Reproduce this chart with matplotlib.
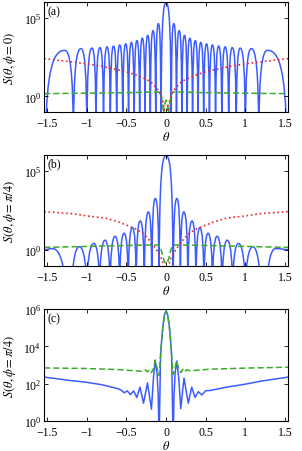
import matplotlib
matplotlib.use('Agg')
import matplotlib.pyplot as plt
from matplotlib.path import Path
from matplotlib.patches import PathPatch
from matplotlib.ticker import NullLocator

plt.rcParams['font.family'] = 'serif'
plt.rcParams['font.serif'] = ['Liberation Serif', 'DejaVu Serif']
plt.rcParams['mathtext.fontset'] = 'stix'

# x axis
x_ticks = [-1.5, -1, -0.5, 0, 0.5, 1, 1.5]
x_ticklabels = ['\u22121.5', '\u22121', '\u22120.5', '0', '0.5', '1', '1.5']

# panel (a), blue lobes: left null, peak position, log10 peak, right null
a_lobe_lo = [-1.52, -1.17, -1.0, -0.885, -0.79, -0.704, -0.624, -0.547, -0.474, -0.403,
             -0.334, -0.266, -0.199, -0.131, -0.065, 0.065, 0.131, 0.199, 0.266, 0.334,
             0.403, 0.474, 0.547, 0.624, 0.704, 0.79, 0.885, 1.0, 1.17]
a_lobe_pk = [-1.28, -1.075, -0.935, -0.835, -0.745, -0.663, -0.585, -0.51, -0.438, -0.368,
             -0.30, -0.232, -0.165, -0.097, 0.0, 0.097, 0.165, 0.232, 0.30, 0.368,
             0.438, 0.51, 0.585, 0.663, 0.745, 0.835, 0.935, 1.075, 1.28]
a_lobe_lg = [2.93, 3.04, 3.07, 3.10, 3.15, 3.20, 3.27, 3.34, 3.43, 3.55,
             3.70, 3.88, 4.18, 4.63, 5.95, 4.63, 4.18, 3.88, 3.70, 3.55,
             3.43, 3.34, 3.27, 3.20, 3.15, 3.10, 3.07, 3.04, 2.93]
a_lobe_hi = [-1.17, -1.0, -0.885, -0.79, -0.704, -0.624, -0.547, -0.474, -0.403, -0.334,
             -0.266, -0.199, -0.131, -0.065, 0.065, 0.131, 0.199, 0.266, 0.334, 0.403,
             0.474, 0.547, 0.624, 0.704, 0.79, 0.885, 1.0, 1.17, 1.52]

a_red_th = [-1.54, -1.2, -1.0, -0.8, -0.6, -0.5, -0.4, -0.3, -0.2, -0.15, -0.1, -0.07, -0.05,
            -0.03, -0.015, 0.0, 0.015, 0.03, 0.05, 0.07, 0.1, 0.15, 0.2, 0.3, 0.4, 0.5, 0.6,
            0.8, 1.0, 1.2, 1.54]
a_red_lg = [2.4, 2.2, 2.07, 1.9, 1.68, 1.55, 1.4, 1.2, 0.95, 0.7, 0.4, 0.1, -0.2,
            -0.6, -1.2, -2.0, -1.2, -0.6, -0.2, 0.1, 0.4, 0.7, 0.95, 1.2, 1.4, 1.55, 1.68,
            1.9, 2.07, 2.2, 2.4]
a_green_th = [-1.54, -1.0, -0.5, -0.1, -0.075, -0.06, -0.045, -0.032, -0.02, -0.01, 0.0,
              0.01, 0.02, 0.032, 0.045, 0.06, 0.075, 0.1, 0.5, 1.0, 1.54]
a_green_lg = [0.17, 0.2, 0.23, 0.28, 0.25, 0.0, -0.5, -1.1, -0.7, -0.35, -0.25,
              -0.35, -0.7, -1.1, -0.5, 0.0, 0.25, 0.28, 0.23, 0.2, 0.17]

# panel (b), blue lobes (edge lobes end at the frame with a finite value)
b_lobe_lo = [-1.54, -1.19, -1.0, -0.84, -0.707, -0.586, -0.478, -0.377, -0.275, -0.18,
             -0.09, 0.09, 0.18, 0.275, 0.377, 0.478, 0.586, 0.707, 0.84, 1.0, 1.27]
b_lobe_pk = [-1.43, -1.095, -0.912, -0.771, -0.643, -0.529, -0.426, -0.327, -0.223, -0.136,
             0.0, 0.136, 0.223, 0.327, 0.426, 0.529, 0.643, 0.771, 0.912, 1.095, 1.38]
b_lobe_lg = [0.1, 0.22, 0.43, 0.63, 0.88, 1.07, 1.42, 1.84, 2.41, 3.25,
             5.95, 3.25, 2.41, 1.84, 1.42, 1.07, 0.88, 0.63, 0.43, 0.22, 0.1]
b_lobe_hi = [-1.27, -1.0, -0.84, -0.707, -0.586, -0.478, -0.377, -0.275, -0.18, -0.09,
             0.09, 0.18, 0.275, 0.377, 0.478, 0.586, 0.707, 0.84, 1.0, 1.19, 1.54]
b_edge_lg = 0.04

b_red_th = [-1.54, -1.18, -1.0, -0.76, -0.6, -0.39, -0.3, -0.22, -0.14, -0.1, -0.054, -0.02,
            0.0, 0.02, 0.054, 0.1, 0.14, 0.22, 0.3, 0.39, 0.6, 0.76, 1.0, 1.18, 1.54]
b_red_lg = [2.43, 2.3, 2.16, 2.02, 1.78, 1.36, 1.1, 0.69, 0.16, -0.15, -0.57, -1.2,
            -2.0, -1.2, -0.57, -0.15, 0.16, 0.69, 1.1, 1.36, 1.78, 2.02, 2.16, 2.3, 2.43]
b_green_th = [-1.54, -1.0, -0.5, -0.2, -0.1, -0.075, -0.06, -0.04, -0.02, 0.0,
              0.02, 0.04, 0.06, 0.075, 0.1, 0.2, 0.5, 1.0, 1.54]
b_green_lg = [0.18, 0.24, 0.3, 0.33, 0.33, 0.25, 0.0, -0.4, -0.72, -0.85,
              -0.72, -0.4, 0.0, 0.25, 0.33, 0.33, 0.3, 0.24, 0.18]

# panel (c)
c_blue_th = [-1.54, -1.2, -1.02, -0.81, -0.6, -0.56, -0.53, -0.49, -0.45, -0.41, -0.37,
             -0.33, -0.285, -0.235, -0.185, -0.16, -0.138, -0.115, -0.1, -0.088,
             -0.07, -0.055, -0.04, -0.02, 0.0, 0.02, 0.04, 0.055, 0.07,
             0.088, 0.1, 0.115, 0.134, 0.16, 0.185, 0.226, 0.28, 0.323, 0.365, 0.407,
             0.45, 0.5, 0.554, 0.76, 1.0, 1.18, 1.54]
c_blue_lg = [2.36, 2.17, 2.09, 1.95, 1.73, 1.64, 1.52, 1.62, 1.42, 1.62, 1.27,
             1.82, 0.96, 2.05, 0.64, 2.3, 3.27, 2.6, 1.4, -1.0,
             3.5, 4.4, 5.1, 5.7, 5.9, 5.7, 5.1, 4.4, 3.5,
             -1.0, 1.4, 2.6, 3.22, 2.3, 0.67, 2.31, 0.96, 1.82, 1.27, 1.58,
             1.40, 1.63, 1.64, 1.82, 1.98, 2.13, 2.36]
c_green_th = [-1.54, -1.02, -0.6, -0.31, -0.26, -0.235, -0.21, -0.185, -0.16, -0.138,
              -0.11, -0.088, -0.07, -0.055, -0.04, -0.02, 0.0, 0.02, 0.04, 0.055, 0.07,
              0.088, 0.11, 0.134, 0.16, 0.185, 0.21, 0.235, 0.26, 0.3, 0.55, 1.0, 1.54]
c_green_lg = [2.85, 2.82, 2.76, 2.67, 2.74, 2.64, 2.76, 2.6, 2.8, 3.25,
              2.8, 2.45, 3.5, 4.4, 5.1, 5.7, 5.9, 5.7, 5.1, 4.4, 3.5,
              2.5, 2.8, 3.22, 2.8, 2.6, 2.78, 2.64, 2.75, 2.7, 2.78, 2.84, 2.89]

blue = '#3d5cff'
red = '#e8292b'
green = '#3aaa2a'
floor = -2.5


def lobe_path(lo, pk, lg, hi, edge=None):
    # each lobe is drawn as two bezier arcs: null -> peak -> null
    verts = []
    codes = []
    n = len(pk)
    for i in range(n):
        ylo = floor
        yhi = floor
        if edge is not None and i == 0:
            ylo = edge
        if edge is not None and i == n - 1:
            yhi = edge
        if i == 0:
            verts.append((lo[i], 10 ** ylo))
            codes.append(Path.MOVETO)
        elif lo[i] != hi[i - 1]:
            verts.append((lo[i], 10 ** ylo))
            codes.append(Path.LINETO)
        top = 10 ** lg[i]
        dx = pk[i] - lo[i]
        if ylo == floor:
            c1 = (lo[i] + 0.05 * dx, 10 ** (lg[i] - 1.2))
        else:
            c1 = (lo[i] + 0.5 * dx, 10 ** ylo)
        c2 = (pk[i] - 0.6 * dx, top)
        verts += [c1, c2, (pk[i], top)]
        codes += [Path.CURVE4] * 3
        dx = hi[i] - pk[i]
        c1 = (pk[i] + 0.6 * dx, top)
        if yhi == floor:
            c2 = (hi[i] - 0.05 * dx, 10 ** (lg[i] - 1.2))
        else:
            c2 = (hi[i] - 0.5 * dx, 10 ** yhi)
        verts += [c1, c2, (hi[i], 10 ** yhi)]
        codes += [Path.CURVE4] * 3
    return Path(verts, codes)


def style_axes(ax, yticks, ylabel, tag):
    ax.set_yscale('log')
    ax.set_xlim(-1.54, 1.54)
    ax.set_xticks(x_ticks, x_ticklabels)
    ax.set_yticks(yticks)
    ax.yaxis.set_minor_locator(NullLocator())
    ax.tick_params(direction='in', top=True, right=True, length=3, width=0.6,
                   labelsize=8.5)
    ax.tick_params(axis='x', pad=3.5)
    ax.tick_params(axis='y', pad=2)
    ax.set_ylabel(ylabel, fontsize=9, labelpad=4)
    ax.set_xlabel(r'$\theta$', fontsize=9, labelpad=1)
    ax.text(0.015, 0.975, tag, transform=ax.transAxes, ha='left', va='top', fontsize=8.5)
    for s in ax.spines.values():
        s.set_linewidth(0.8)


def to_vals(lg):
    return [10 ** v for v in lg]


fig = plt.figure(figsize=(3.02, 4.52), dpi=100)
ax_a = fig.add_axes([0.146, 0.750, 0.808, 0.243])
ax_b = fig.add_axes([0.146, 0.409, 0.808, 0.246])
ax_c = fig.add_axes([0.146, 0.066, 0.808, 0.248])

# (a)
ax_a.add_patch(PathPatch(lobe_path(a_lobe_lo, a_lobe_pk, a_lobe_lg, a_lobe_hi),
                         fill=False, edgecolor=blue, lw=1.1))
ax_a.plot(a_green_th, to_vals(a_green_lg), '--', color=green, lw=1.1, dashes=(4, 2))
ax_a.plot(a_red_th, to_vals(a_red_lg), ':', color=red, lw=1.2)
style_axes(ax_a, [1, 1e5], r'$S(\theta,\phi=0)$', '(a)')
ax_a.set_ylim(1e-1, 1e6)

# (b)
ax_b.add_patch(PathPatch(lobe_path(b_lobe_lo, b_lobe_pk, b_lobe_lg, b_lobe_hi, b_edge_lg),
                         fill=False, edgecolor=blue, lw=1.1))
ax_b.plot(b_green_th, to_vals(b_green_lg), '--', color=green, lw=1.1, dashes=(4, 2))
ax_b.plot(b_red_th, to_vals(b_red_lg), ':', color=red, lw=1.2)
style_axes(ax_b, [1, 1e5], r'$S(\theta,\phi=\pi/4)$', '(b)')
ax_b.set_ylim(1e-1, 1e6)

# (c)
ax_c.plot(c_blue_th, to_vals(c_blue_lg), '-', color=blue, lw=1.1)
ax_c.plot(c_green_th, to_vals(c_green_lg), '--', color=green, lw=1.1, dashes=(4, 2))
style_axes(ax_c, [1, 1e2, 1e4, 1e6], r'$S(\theta,\phi=\pi/4)$', '(c)')
ax_c.set_ylim(1, 1e6)

fig.savefig('out.png', dpi=100)
plt.close(fig)
